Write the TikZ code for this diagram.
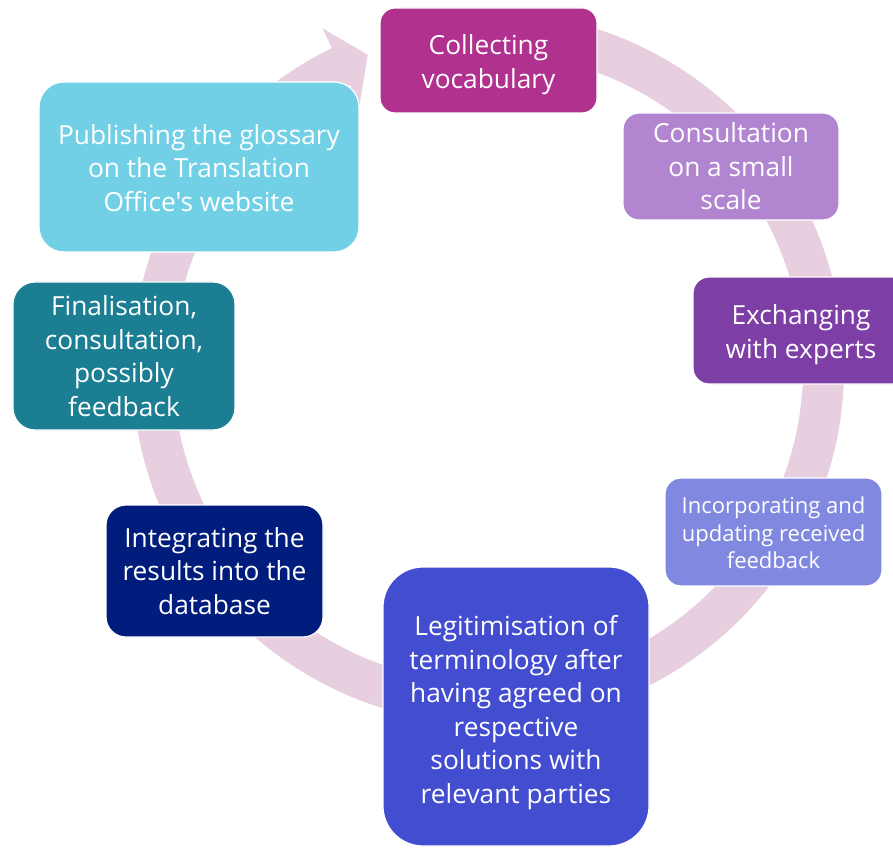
\documentclass[tikz,border=0pt]{standalone}
\usepackage{fontspec}
\setmainfont{Open Sans}[Ligatures=TeXOff]
\usetikzlibrary{calc}
\definecolor{ringc}{HTML}{E8CFE0}
\definecolor{cA}{HTML}{B0318E}
\definecolor{cB}{HTML}{B185D0}
\definecolor{cC}{HTML}{7D3EA6}
\definecolor{cD}{HTML}{8088E0}
\definecolor{cE}{HTML}{434DD0}
\definecolor{cF}{HTML}{001C7D}
\definecolor{cG}{HTML}{1C7E93}
\definecolor{cH}{HTML}{72D0E6}
\tikzset{
  stepbox/.style={draw=white, line width=1.2pt, inner sep=0pt},
  steptext/.style={text=white, align=center, inner sep=0pt,
    font=\fontsize{26.3}{33.5}\selectfont},
}
\begin{document}
\begin{tikzpicture}[x=1pt,y=1pt]
\useasboundingbox (0,0) rectangle (893,847);
\coordinate (C) at (488,479);
% ring with arrow head
\fill[ringc] ([shift={(C)}]100:356) arc[start angle=100, end angle=-244, radius=356]
  -- ([shift={(C)}]-244:378) -- ([shift={(C)}]-249:335.5) -- ([shift={(C)}]-244:293)
  -- ([shift={(C)}]-244:315) arc[start angle=-244, end angle=100, radius=315] -- cycle;
% boxes
\node[stepbox, fill=cA, minimum width=217pt, minimum height=105pt, rounded corners=15pt] (coll) at (488.5,786.5) {};
\node[steptext, yshift=-4pt] (collT) at (coll.center) {Collecting\\vocabulary};
\node[stepbox, fill=cB, minimum width=216pt, minimum height=107pt, rounded corners=16pt] (cons) at (731,680.5) {};
\node[steptext] (consT) at (cons.center) {Consultation\\on a small\\scale};
\node[stepbox, fill=cC, minimum width=216pt, minimum height=107pt, rounded corners=16pt] (exch) at (801,516.5) {};
\node[steptext, yshift=-4pt] (exchT) at (exch.center) {Exchanging\\with experts};
\node[stepbox, fill=cD, minimum width=217pt, minimum height=108pt, rounded corners=16pt] (inc) at (773.5,315) {};
\node[steptext, yshift=-1pt, font=\fontsize{22}{27.5}\selectfont] (incT) at (inc.center) {Incorporating and\\updating received\\feedback};
\node[stepbox, fill=cE, minimum width=266pt, minimum height=279pt, rounded corners=40pt] (leg) at (516,140.5) {};
\node[steptext, yshift=-6pt] (legT) at (leg.center) {Legitimisation of\\terminology after\\having agreed on\\respective\\solutions with\\relevant parties};
\node[stepbox, fill=cF, minimum width=217pt, minimum height=132pt, rounded corners=20pt] (integ) at (214.5,276) {};
\node[steptext] (integT) at (integ.center) {Integrating the\\results into the\\database};
\node[stepbox, fill=cG, minimum width=222pt, minimum height=148pt, rounded corners=22pt] (fin) at (124,491) {};
\node[steptext] (finT) at (fin.center) {Finalisation,\\consultation,\\possibly\\feedback};
\node[stepbox, fill=cH, minimum width=320pt, minimum height=170pt, rounded corners=25pt] (pub) at (199,680) {};
\node[steptext, yshift=-1pt] (pubT) at (pub.center) {Publishing the glossary\\on the Translation\\Office's website};
\end{tikzpicture}
\end{document}
